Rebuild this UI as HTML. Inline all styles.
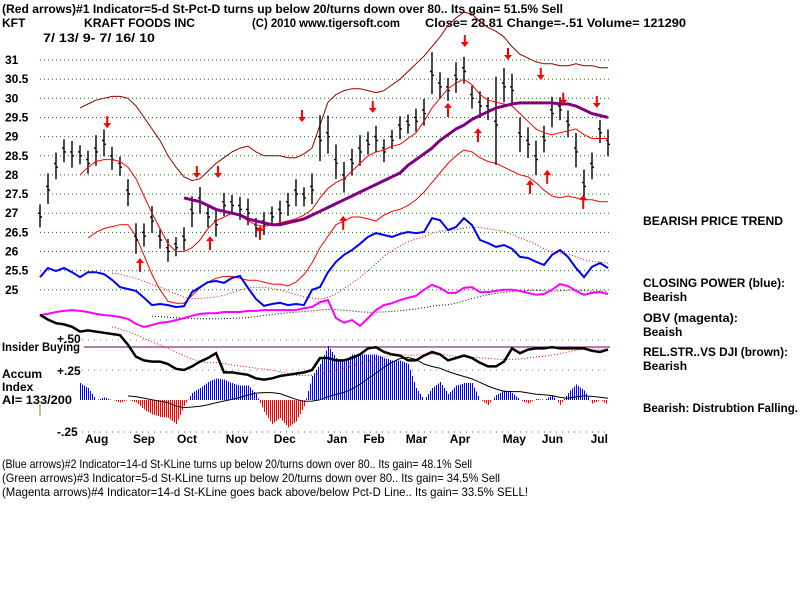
<!DOCTYPE html>
<html><head><meta charset="utf-8"><style>
html,body{margin:0;padding:0;background:#fff;}
svg{display:block;font-family:"Liberation Sans",Arial,sans-serif;}
.t{font-size:12px;font-weight:bold;fill:#000;}
.n{font-size:12px;fill:#000;}
</style></head><body>
<svg id="chart" width="800" height="600" viewBox="0 0 800 600">
<rect x="0" y="0" width="800" height="600" fill="#fff"/>
<text class="t" x="2" y="13" textLength="561" lengthAdjust="spacingAndGlyphs">(Red arrows)#1 Indicator=5-d St-Pct-D turns up below 20/turns down over 80.. Its gain= 51.5% Sell</text>
<text class="t" x="2" y="27">KFT</text>
<text class="t" x="84" y="27" textLength="111" lengthAdjust="spacingAndGlyphs">KRAFT FOODS INC</text>
<text class="t" x="252" y="27" textLength="148" lengthAdjust="spacingAndGlyphs">(C) 2010 www.tigersoft.com</text>
<text class="t" x="425" y="27" textLength="261" lengthAdjust="spacingAndGlyphs">Close=  28.81  Change=-.51 Volume= 121290</text>
<text class="t" x="43" y="42" textLength="112" lengthAdjust="spacingAndGlyphs">7/ 13/ 9- 7/ 16/ 10</text>
<g id="grid"></g>
<g id="yticks"></g>
<g id="series"></g>
<g id="lower"></g>
<g id="months"></g>
<text class="t" x="643" y="225" textLength="140" lengthAdjust="spacingAndGlyphs">BEARISH PRICE TREND</text>
<text class="t" x="643" y="287" textLength="142" lengthAdjust="spacingAndGlyphs">CLOSING POWER (blue):</text>
<text class="t" x="643" y="301">Bearish</text>
<text class="t" x="643" y="322" textLength="95" lengthAdjust="spacingAndGlyphs">OBV (magenta):</text>
<text class="t" x="643" y="336">Beaish</text>
<text class="t" x="643" y="356" textLength="145" lengthAdjust="spacingAndGlyphs">REL.STR..VS DJI (brown):</text>
<text class="t" x="643" y="370">Bearish</text>
<text class="t" x="643" y="412" textLength="155" lengthAdjust="spacingAndGlyphs">Bearish: Distrubtion Falling.</text>
<text class="t" x="57" y="343">+.50</text>
<text class="t" x="2" y="351" textLength="78" lengthAdjust="spacingAndGlyphs">Insider Buying</text>
<text class="t" x="57" y="375">+.25</text>
<text class="t" x="2" y="378">Accum</text>
<text class="t" x="2" y="391">Index</text>
<text class="t" x="2" y="404" textLength="70" lengthAdjust="spacingAndGlyphs">AI= 133/200</text>
<text class="t" x="57" y="436">-.25</text>
<line x1="40" y1="404" x2="40" y2="416" stroke="#8a7a20" stroke-width="1"/>
<text class="n" x="2" y="468" textLength="470" lengthAdjust="spacingAndGlyphs">(Blue arrows)#2 Indicator=14-d St-KLine turns up below 20/turns down over 80.. Its gain= 48.1% Sell</text>
<text class="n" x="2" y="482" textLength="498" lengthAdjust="spacingAndGlyphs">(Green arrows)#3 Indicator=5-d St-KLine turns up below 20/turns down over 80.. Its gain= 34.5% Sell</text>
<text class="n" x="2" y="496" textLength="526" lengthAdjust="spacingAndGlyphs">(Magenta arrows)#4 Indicator=14-d St-KLine goes back above/below Pct-D Line.. Its gain= 33.5% SELL!</text>
</svg>
<script>
var closes=[26.9,27.6,28.2,28.6,28.5,28.5,28.3,28.6,28.8,28.4,28.2,27.5,26.3,26.4,26.8,26.3,26.0,26.1,26.3,27.0,27.3,26.9,26.7,27.2,27.2,27.1,27.0,26.6,26.7,26.9,27.0,27.2,27.5,27.4,27.6,28.9,29.0,28.3,27.9,28.3,28.6,28.8,28.9,28.6,28.9,29.2,29.3,29.4,29.6,30.6,30.3,30.2,30.5,30.7,30.0,29.8,29.7,29.3,30.3,30.2,29.0,28.8,28.4,28.9,29.6,29.7,29.3,28.6,27.7,28.2,29.1,28.8];
var ranges=[0.6,0.8,0.7,0.6,0.7,0.5,0.6,0.8,0.7,0.6,0.5,0.7,0.8,0.6,0.7,0.5,0.6,0.5,0.6,0.8,0.7,0.6,0.7,0.6,0.5,0.6,0.7,0.5,0.6,0.5,0.6,0.6,0.7,0.5,0.8,1.2,1.0,0.9,0.8,0.7,0.8,0.6,0.7,0.6,0.5,0.6,0.5,0.6,0.7,1.1,0.7,0.6,0.8,0.7,0.6,0.7,0.6,2.3,0.9,0.8,0.9,0.8,0.9,0.7,0.8,0.6,0.7,0.9,0.8,0.7,0.6,0.7];
var upperBand=[null,null,null,null,null,29.75,29.85,29.95,30.0,30.05,30.05,30.0,29.8,29.5,29.2,28.9,28.5,28.2,27.95,27.85,27.9,28.1,28.3,28.45,28.6,28.7,28.75,28.6,28.5,28.5,28.5,28.45,28.45,28.55,28.7,29.3,29.9,30.1,30.2,30.25,30.25,30.2,30.15,30.2,30.35,30.5,30.7,30.9,31.1,31.35,31.6,31.9,32.1,32.25,32.2,32.0,31.85,31.75,31.6,31.35,31.15,31.05,30.95,30.9,30.9,30.85,30.85,30.9,30.85,30.85,30.8,30.8];
var lowerBand=[null,null,null,null,null,null,26.35,26.5,26.6,26.65,26.7,26.7,26.4,25.9,25.4,25.0,24.7,24.65,24.65,24.85,25.05,25.2,25.3,25.35,25.35,25.3,25.25,25.25,25.2,25.15,25.15,25.1,25.2,25.4,25.7,26.1,26.4,26.7,26.8,26.9,26.9,26.85,26.8,26.95,27.05,27.1,27.2,27.35,27.55,27.8,28.05,28.3,28.5,28.65,28.6,28.45,28.35,28.3,28.2,28.1,28.0,27.95,27.8,27.6,27.45,27.4,27.45,27.4,27.35,27.35,27.3,27.3];
var redMA=[null,null,null,null,null,28.0,28.2,28.35,28.4,28.4,28.35,28.2,27.9,27.45,27.0,26.6,26.2,26.0,26.0,26.1,26.3,26.6,26.8,26.9,27.0,26.95,26.8,26.7,26.65,26.7,26.75,26.8,26.85,26.95,27.1,27.4,27.65,27.8,27.9,28.1,28.3,28.5,28.6,28.65,28.75,28.8,28.95,29.1,29.4,29.75,30.0,30.25,30.4,30.5,30.35,30.1,29.95,29.9,29.85,29.8,29.6,29.4,29.2,29.1,29.05,29.1,29.15,29.2,29.05,28.95,28.95,28.95];
var purpleMA=[null,null,null,null,null,null,null,null,null,null,null,null,null,null,null,null,null,null,27.4,27.35,27.3,27.2,27.1,27.05,27.0,26.95,26.85,26.8,26.75,26.7,26.7,26.75,26.8,26.85,26.95,27.05,27.15,27.25,27.35,27.45,27.55,27.65,27.75,27.85,27.95,28.05,28.25,28.4,28.55,28.7,28.9,29.05,29.2,29.3,29.45,29.55,29.65,29.75,29.8,29.85,29.88,29.88,29.88,29.88,29.88,29.85,29.85,29.8,29.7,29.6,29.55,29.5];
var closingPower=[25.33,25.57,25.49,25.57,25.46,25.33,25.46,25.46,25.41,25.26,25.07,25.02,24.97,24.79,24.6,24.63,24.6,24.55,24.57,24.94,25.07,25.2,25.23,25.18,25.31,25.36,25.05,24.76,24.58,24.63,24.66,24.6,24.63,24.6,25.0,25.07,25.46,25.73,25.91,26.04,26.2,26.38,26.48,26.43,26.38,26.46,26.51,26.48,26.51,26.87,26.82,26.56,26.64,26.87,26.69,26.3,26.22,26.12,26.17,26.07,25.86,25.83,25.73,25.65,25.91,26.04,25.86,25.57,25.33,25.6,25.7,25.57];
var obv=[24.34,24.37,24.42,24.45,24.47,24.45,24.42,24.37,24.34,24.32,24.29,24.24,24.11,24.03,24.08,24.14,24.16,24.21,24.26,24.32,24.37,24.39,24.39,24.42,24.42,24.42,24.45,24.45,24.47,24.47,24.47,24.47,24.47,24.52,24.55,24.68,24.73,24.26,24.14,24.21,24.06,24.26,24.47,24.6,24.65,24.73,24.79,24.84,25.0,25.13,25.05,24.92,24.92,25.05,25.07,24.94,24.94,24.97,25.0,25.0,24.97,24.92,24.87,24.89,25.0,25.15,25.1,24.97,24.87,24.92,24.94,24.89];
var relStrength=[0.71,0.67,0.64,0.63,0.61,0.57,0.58,0.57,0.56,0.55,0.54,0.46,0.36,0.33,0.32,0.32,0.30,0.26,0.25,0.28,0.32,0.35,0.39,0.23,0.23,0.22,0.21,0.18,0.17,0.18,0.2,0.21,0.22,0.23,0.25,0.35,0.35,0.33,0.33,0.35,0.38,0.43,0.44,0.4,0.38,0.37,0.33,0.33,0.37,0.4,0.38,0.33,0.35,0.37,0.35,0.31,0.28,0.28,0.32,0.43,0.39,0.42,0.43,0.43,0.44,0.43,0.43,0.43,0.43,0.41,0.4,0.42];
var accumIndex=[null,null,null,null,null,0.14,0.1,0.0,0.02,0.0,-0.02,0.0,-0.02,-0.08,-0.12,-0.14,-0.15,-0.2,-0.05,0.06,0.1,0.15,0.18,0.17,0.14,0.12,0.12,0.05,-0.1,-0.2,-0.15,-0.23,-0.18,-0.05,0.2,0.3,0.45,0.35,0.32,0.38,0.38,0.38,0.38,0.35,0.33,0.33,0.3,0.1,0.0,0.1,0.15,0.05,0.12,0.14,0.14,0.0,-0.04,0.04,0.08,0.06,0.0,-0.03,0.01,0.0,0.04,-0.04,0.06,0.13,0.08,-0.03,0.0,-0.04];
var downArrowIdx=[8.4,19.6,22.25,32.75,41.6,53.1,58.5,62.6,65.4,69.6];
var downArrowPrice=[29.22,27.92,27.92,29.38,29.62,31.34,31.0,30.48,29.83,29.75];
var upArrowIdx=[12.5,21.25,27.5,37.9,51,54.75,61.25,63.4,67.9];
var upArrowPrice=[25.83,26.4,26.67,26.93,29.88,29.22,27.87,28.13,27.48];
var priceTicks=[31,30.5,30,29.5,29,28.5,28,27.5,27,26.5,26,25.5,25];
var tickLabels=["31","30.5","30","29.5","29","28.5","28","27.5","27","26.5","26","25.5","25"];
var monthLabels=["Aug","Sep","Oct","Nov","Dec","Jan","Feb","Mar","Apr","May","Jun","Jul"];
var monthIdx=[7,13,18.5,24.6,30.6,37.2,41.8,47.1,52.6,59.2,64.1,70.2];

var NS="http://www.w3.org/2000/svg";
function X(i){return 40+i*8;}
function Y(p){return 60+(31-p)*38.3;}
function YA(v){return 400-v*120;}
function mk(tag,attrs,parent){var e=document.createElementNS(NS,tag);for(var k in attrs)e.setAttribute(k,attrs[k]);parent.appendChild(e);return e;}
var grid=document.getElementById('grid'),yt=document.getElementById('yticks'),S=document.getElementById('series'),L=document.getElementById('lower'),M=document.getElementById('months');
priceTicks.forEach(function(p,k){
  var g=mk('line',{x1:40,x2:610,y1:Y(p),y2:Y(p),stroke:'#008000','stroke-width':1,'stroke-dasharray':'1,3'},grid);
  
  
  var t=mk('text',{x:5,y:Y(p)+4,'class':'t'},yt);t.textContent=tickLabels[k];
  
  
});
function path(arr,yf,attrs,name){
  var d='',pen=false;
  arr.forEach(function(v,i){if(v==null){pen=false;return;}d+=(pen?'L':'M')+X(i).toFixed(1)+','+yf(v).toFixed(1);pen=true;});
  attrs.d=d;attrs.fill='none';var e=mk('path',attrs,S);
  
  
  return e;
}
path(upperBand,Y,{stroke:'#8b0000','stroke-width':1},'upper-band');
path(lowerBand,Y,{stroke:'#ff0000','stroke-width':1},'lower-band');
closes.forEach(function(c,i){
  var hi=c+ranges[i]*0.55,lo=c-ranges[i]*0.45,x=X(i);
  var b=mk('path',{d:'M'+x+','+Y(hi).toFixed(1)+'V'+Y(lo).toFixed(1)+'M'+(x-2)+','+Y(c+0.1).toFixed(1)+'H'+x+'M'+x+','+Y(c).toFixed(1)+'H'+(x+2),stroke:'#000','stroke-width':1.4,fill:'none'},S);
  
  
});
path(redMA,Y,{stroke:'#ff0000','stroke-width':1},'red-moving-average');
path(purpleMA,Y,{stroke:'#800080','stroke-width':3},'purple-moving-average');
function ma(arr,n){return arr.map(function(v,i){if(i<n-1)return null;var s=0,c=0;for(var j=i-n+1;j<=i;j++){if(arr[j]!=null){s+=arr[j];c++;}}return c?s/c:null;});}
path(ma(closingPower,10),Y,{stroke:'#ff0000','stroke-width':1,'stroke-dasharray':'1,2'},'closing-power-ma');
path(closingPower,Y,{stroke:'#0000ff','stroke-width':2},'closing-power-line');
path(ma(obv,15),Y,{stroke:'#000','stroke-width':1,'stroke-dasharray':'1,2'},'obv-ma');
path(obv,Y,{stroke:'#ff00ff','stroke-width':2},'obv-line');
downArrowIdx.forEach(function(ix,k){
  var x=X(ix),y=Y(downArrowPrice[k]);
  var a=mk('path',{d:'M'+(x-1)+','+(y-12)+'h2v7h3l-4,5l-4,-5h3z',fill:'#ff0000'},S);
  
  
});
upArrowIdx.forEach(function(ix,k){
  var x=X(ix),y=Y(upArrowPrice[k]);
  var a=mk('path',{d:'M'+x+','+y+'l4,5h-3v9h-2v-9h-3z',fill:'#ff0000'},S);
  
  
});
[[0.5,'#808080'],[0.25,'#808080']].forEach(function(g){
  var l=mk('line',{x1:82,x2:610,y1:YA(g[0]),y2:YA(g[0]),stroke:g[1],'stroke-dasharray':'1,5'},L);
  
  
});
var nl=mk('line',{x1:82,x2:610,y1:432,y2:432,stroke:'#c000c0','stroke-dasharray':'1,5'},L);


var ins=mk('line',{x1:84,x2:610,y1:347,y2:347,stroke:'#600060','stroke-width':1},L);


accumIndex.forEach(function(v,i){
  if(v==null||i==accumIndex.length-1)return;
  var v2=accumIndex[i+1];
  for(var s=0;s<4;s++){
    var vv=v+(v2-v)*s/4,x=X(i)+s*2+0.5;
    var h=mk('line',{x1:x,x2:x,y1:YA(0),y2:YA(vv),stroke:vv>=0?'#0000ff':'#ff0000','stroke-width':1,'shape-rendering':'crispEdges'},L);
    
    
  }
});
function lpath(arr,attrs,name){
  var d='',pen=false;arr.forEach(function(v,i){if(v==null){pen=false;return;}d+=(pen?'L':'M')+X(i).toFixed(1)+','+YA(v).toFixed(1);pen=true;});
  attrs.d=d;attrs.fill='none';var e=mk('path',attrs,L);
  
  
}
lpath(ma(accumIndex,12),{stroke:'#000','stroke-width':1},'accum-ma');
lpath(ma(relStrength,10),{stroke:'#ff0000','stroke-width':1,'stroke-dasharray':'1,2'},'rel-strength-ma');
lpath(relStrength,{stroke:'#000','stroke-width':2.5},'rel-strength-line');
monthLabels.forEach(function(m,k){
  var t=mk('text',{x:X(monthIdx[k])-11,y:443,'class':'t'},M);t.textContent=m;
  
  
});
</script>
</body></html>
